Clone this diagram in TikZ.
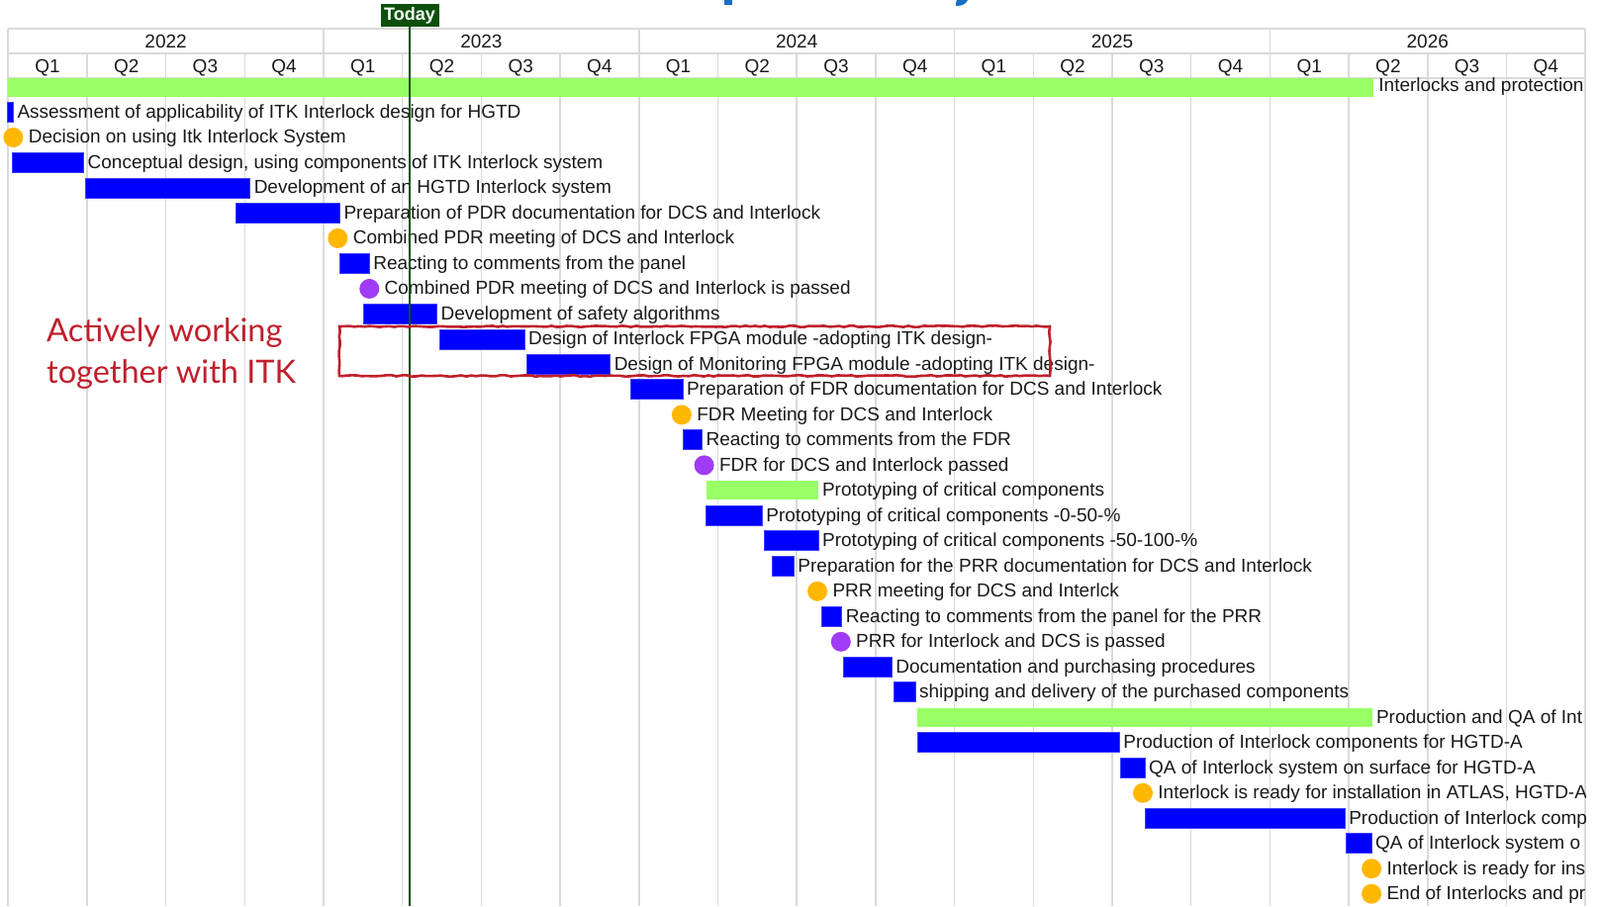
\documentclass[tikz,border=0pt]{standalone}
\usepackage{fontspec}
\setmainfont{Liberation Sans}
\newfontfamily\notefont{Lato}
\usetikzlibrary{positioning,decorations.pathmorphing}
\definecolor{barblue}{RGB}{0,0,255}
\definecolor{sumgreen}{RGB}{153,255,102}
\definecolor{msorange}{RGB}{255,183,0}
\definecolor{passpurple}{RGB}{160,60,245}
\definecolor{gridgray}{RGB}{218,218,218}
\definecolor{todaygreen}{RGB}{12,80,12}
\definecolor{notered}{RGB}{192,32,44}
\definecolor{titleblue}{RGB}{20,110,195}
\newcommand{\rowy}[1]{88+25.49*#1}

\begin{document}
\begin{tikzpicture}[x=1pt, y=-1pt, font=\fontsize{19}{22}\selectfont,
  bar/.style = {fill=barblue, draw=barblue!75!white, line width=0.8pt, minimum height=20pt, inner sep=0pt},
  sum/.style = {fill=sumgreen, minimum height=19pt, inner sep=0pt},
  ms/.style = {circle, fill=msorange, minimum size=20pt, inner sep=0pt},
  pass/.style = {circle, fill=passpurple, minimum size=20pt, inner sep=0pt},
  lbl/.style = {inner sep=0pt, text height=13pt, text depth=1pt, text=black!90},
  grid/.style = {gridgray, line width=1.5pt},
  today/.style = {fill=todaygreen, text=white, font=\fontsize{18}{20}\selectfont\bfseries, minimum width=59pt, minimum height=23pt, inner sep=0pt},
  note/.style = {text=notered, font=\notefont\fontsize{32.5}{36}\selectfont, inner sep=0pt, anchor=base west}]
\useasboundingbox (0,0) rectangle (1617,916);

% time axis
\draw[grid] (8.2,29) -- (1602,29);
\draw[grid] (8.2,54) -- (1602,54);
\draw[grid] (8.2,79) -- (1602,79);
\foreach \i in {0,...,20} {
  \draw[grid] ({8.2+79.7*\i},54) -- ({8.2+79.7*\i},916);
}
\foreach \k in {0,...,5} {
  \draw[grid] ({8.2+318.8*\k},29) -- ({8.2+318.8*\k},54);
}
\foreach \yr [count=\k from 0] in {2022,2023,2024,2025,2026} {
  \node[lbl] (y\k) at ({167.6+318.8*\k},42) {\yr};
}
\foreach \i in {0,...,19} {
  \pgfmathtruncatemacro\q{mod(\i,4)+1}
  \node[lbl] (q\i) at ({48+79.7*\i},67) {Q\q};
}

% bars and milestones
\node[sum, minimum width=1379.8pt] (b0) at (698.1,{\rowy{0}}) {};
\node[bar, minimum width=6.2pt] (b1) at (10.3,{\rowy{1}}) {};
\node[ms] (b2) at (13.4,{\rowy{2}}) {};
\node[bar, minimum width=72.2pt] (b3) at (48.5,{\rowy{3}}) {};
\node[bar, minimum width=166.1pt] (b4) at (169.6,{\rowy{4}}) {};
\node[bar, minimum width=105.2pt] (b5) at (290.8,{\rowy{5}}) {};
\node[ms] (b6) at (341.4,{\rowy{6}}) {};
\node[bar, minimum width=29.9pt] (b7) at (358.3,{\rowy{7}}) {};
\node[pass] (b8) at (373.3,{\rowy{8}}) {};
\node[bar, minimum width=74pt] (b9) at (404.5,{\rowy{9}}) {};
\node[bar, minimum width=85.6pt] (b10) at (487.3,{\rowy{10}}) {};
\node[bar, minimum width=84.5pt] (b11) at (574.4,{\rowy{11}}) {};
\node[bar, minimum width=52.7pt] (b12) at (663.6,{\rowy{12}}) {};
\node[ms] (b13) at (688.9,{\rowy{13}}) {};
\node[bar, minimum width=19.5pt] (b14) at (699.7,{\rowy{14}}) {};
\node[pass] (b15) at (711.6,{\rowy{15}}) {};
\node[sum, minimum width=113.4pt] (b16) at (770.4,{\rowy{16}}) {};
\node[bar, minimum width=56.7pt] (b17) at (742,{\rowy{17}}) {};
\node[bar, minimum width=54.7pt] (b18) at (799.7,{\rowy{18}}) {};
\node[bar, minimum width=21.7pt] (b19) at (791.5,{\rowy{19}}) {};
\node[ms] (b20) at (826.1,{\rowy{20}}) {};
\node[bar, minimum width=20.6pt] (b21) at (840.5,{\rowy{21}}) {};
\node[pass] (b22) at (849.8,{\rowy{22}}) {};
\node[bar, minimum width=48.5pt] (b23) at (877.1,{\rowy{23}}) {};
\node[bar, minimum width=21.7pt] (b24) at (914.2,{\rowy{24}}) {};
\node[sum, minimum width=460pt] (b25) at (1157.1,{\rowy{25}}) {};
\node[bar, minimum width=204.2pt] (b26) at (1029.2,{\rowy{26}}) {};
\node[bar, minimum width=24.7pt] (b27) at (1144.7,{\rowy{27}}) {};
\node[ms] (b28) at (1155,{\rowy{28}}) {};
\node[bar, minimum width=202.1pt] (b29) at (1258.1,{\rowy{29}}) {};
\node[bar, minimum width=25.8pt] (b30) at (1373.2,{\rowy{30}}) {};
\node[ms] (b31) at (1386.1,{\rowy{31}}) {};
\node[ms] (b32) at (1386.1,{\rowy{32}}) {};

% task names, cut at the end of the chart
\begin{scope}
\clip (0,0) rectangle (1602,916);
\node[lbl, right=5pt of b0, yshift=2pt] (l0) {Interlocks and protection};
\node[lbl, right=3.5pt of b1] (l1) {Assessment of applicability of ITK Interlock design for HGTD};
\node[lbl, right=5pt of b2] (l2) {Decision on using Itk Interlock System};
\node[lbl, right=3.5pt of b3] (l3) {Conceptual design, using components of ITK Interlock system};
\node[lbl, right=3.5pt of b4] (l4) {Development of an HGTD Interlock system};
\node[lbl, right=3.5pt of b5] (l5) {Preparation of PDR documentation for DCS and Interlock};
\node[lbl, right=5pt of b6] (l6) {Combined PDR meeting of DCS and Interlock};
\node[lbl, right=3.5pt of b7] (l7) {Reacting to comments from the panel};
\node[lbl, right=5pt of b8] (l8) {Combined PDR meeting of DCS and Interlock is passed};
\node[lbl, right=3.5pt of b9] (l9) {Development of safety algorithms};
\node[lbl, right=3.5pt of b10] (l10) {Design of Interlock FPGA module -adopting ITK design-};
\node[lbl, right=3.5pt of b11] (l11) {Design of Monitoring FPGA module -adopting ITK design-};
\node[lbl, right=3.5pt of b12] (l12) {Preparation of FDR documentation for DCS and Interlock};
\node[lbl, right=5pt of b13] (l13) {FDR Meeting for DCS and Interlock};
\node[lbl, right=3.5pt of b14] (l14) {Reacting to comments from the FDR};
\node[lbl, right=5pt of b15] (l15) {FDR for DCS and Interlock passed};
\node[lbl, right=3.5pt of b16] (l16) {Prototyping of critical components};
\node[lbl, right=3.5pt of b17] (l17) {Prototyping of critical components -0-50-\%};
\node[lbl, right=3.5pt of b18] (l18) {Prototyping of critical components -50-100-\%};
\node[lbl, right=3.5pt of b19] (l19) {Preparation for the PRR documentation for DCS and Interlock};
\node[lbl, right=5pt of b20] (l20) {PRR meeting for DCS and Interlck};
\node[lbl, right=3.5pt of b21] (l21) {Reacting to comments from the panel for the PRR};
\node[lbl, right=5pt of b22] (l22) {PRR for Interlock and DCS is passed};
\node[lbl, right=3.5pt of b23] (l23) {Documentation and purchasing procedures};
\node[lbl, right=3.5pt of b24] (l24) {shipping and delivery of the purchased components};
\node[lbl, right=3.5pt of b25] (l25) {Production and QA of Int};
\node[lbl, right=3.5pt of b26] (l26) {Production of Interlock components for HGTD-A};
\node[lbl, right=3.5pt of b27] (l27) {QA of Interlock system on surface for HGTD-A};
\node[lbl, right=5pt of b28] (l28) {Interlock is ready for installation in ATLAS, HGTD-A};
\node[lbl, right=3.5pt of b29] (l29) {Production of Interlock comp};
\node[lbl, right=3.5pt of b30] (l30) {QA of Interlock system o};
\node[lbl, right=5pt of b31] (l31) {Interlock is ready for ins};
\node[lbl, right=5pt of b32] (l32) {End of Interlocks and pr};
\end{scope}

% today marker
\node[today] (today) at (414,15.5) {Today};
\coordinate (todayend) at (414,916);
\draw[todaygreen, line width=1.5pt] (today.south) -- (todayend);

% ITK remark
\draw[notered, line width=2.6pt, decorate, decoration={random steps, segment length=5pt, amplitude=0.7pt}]
  (343,330) -- (1061,330) -- (1061,380) -- (343,380) -- cycle;
\node[note] (note1) at (47,345) {Actively working};
\node[note] (note2) at (47,387) {together with ITK};

% title, cut off above
\fill[titleblue] (732,0) rectangle (740,5);
\fill[titleblue] (967,0) -- (978,0) .. controls (976,4) and (973,6) .. (966,6) -- (966,3) -- cycle;
\end{tikzpicture}
\end{document}
